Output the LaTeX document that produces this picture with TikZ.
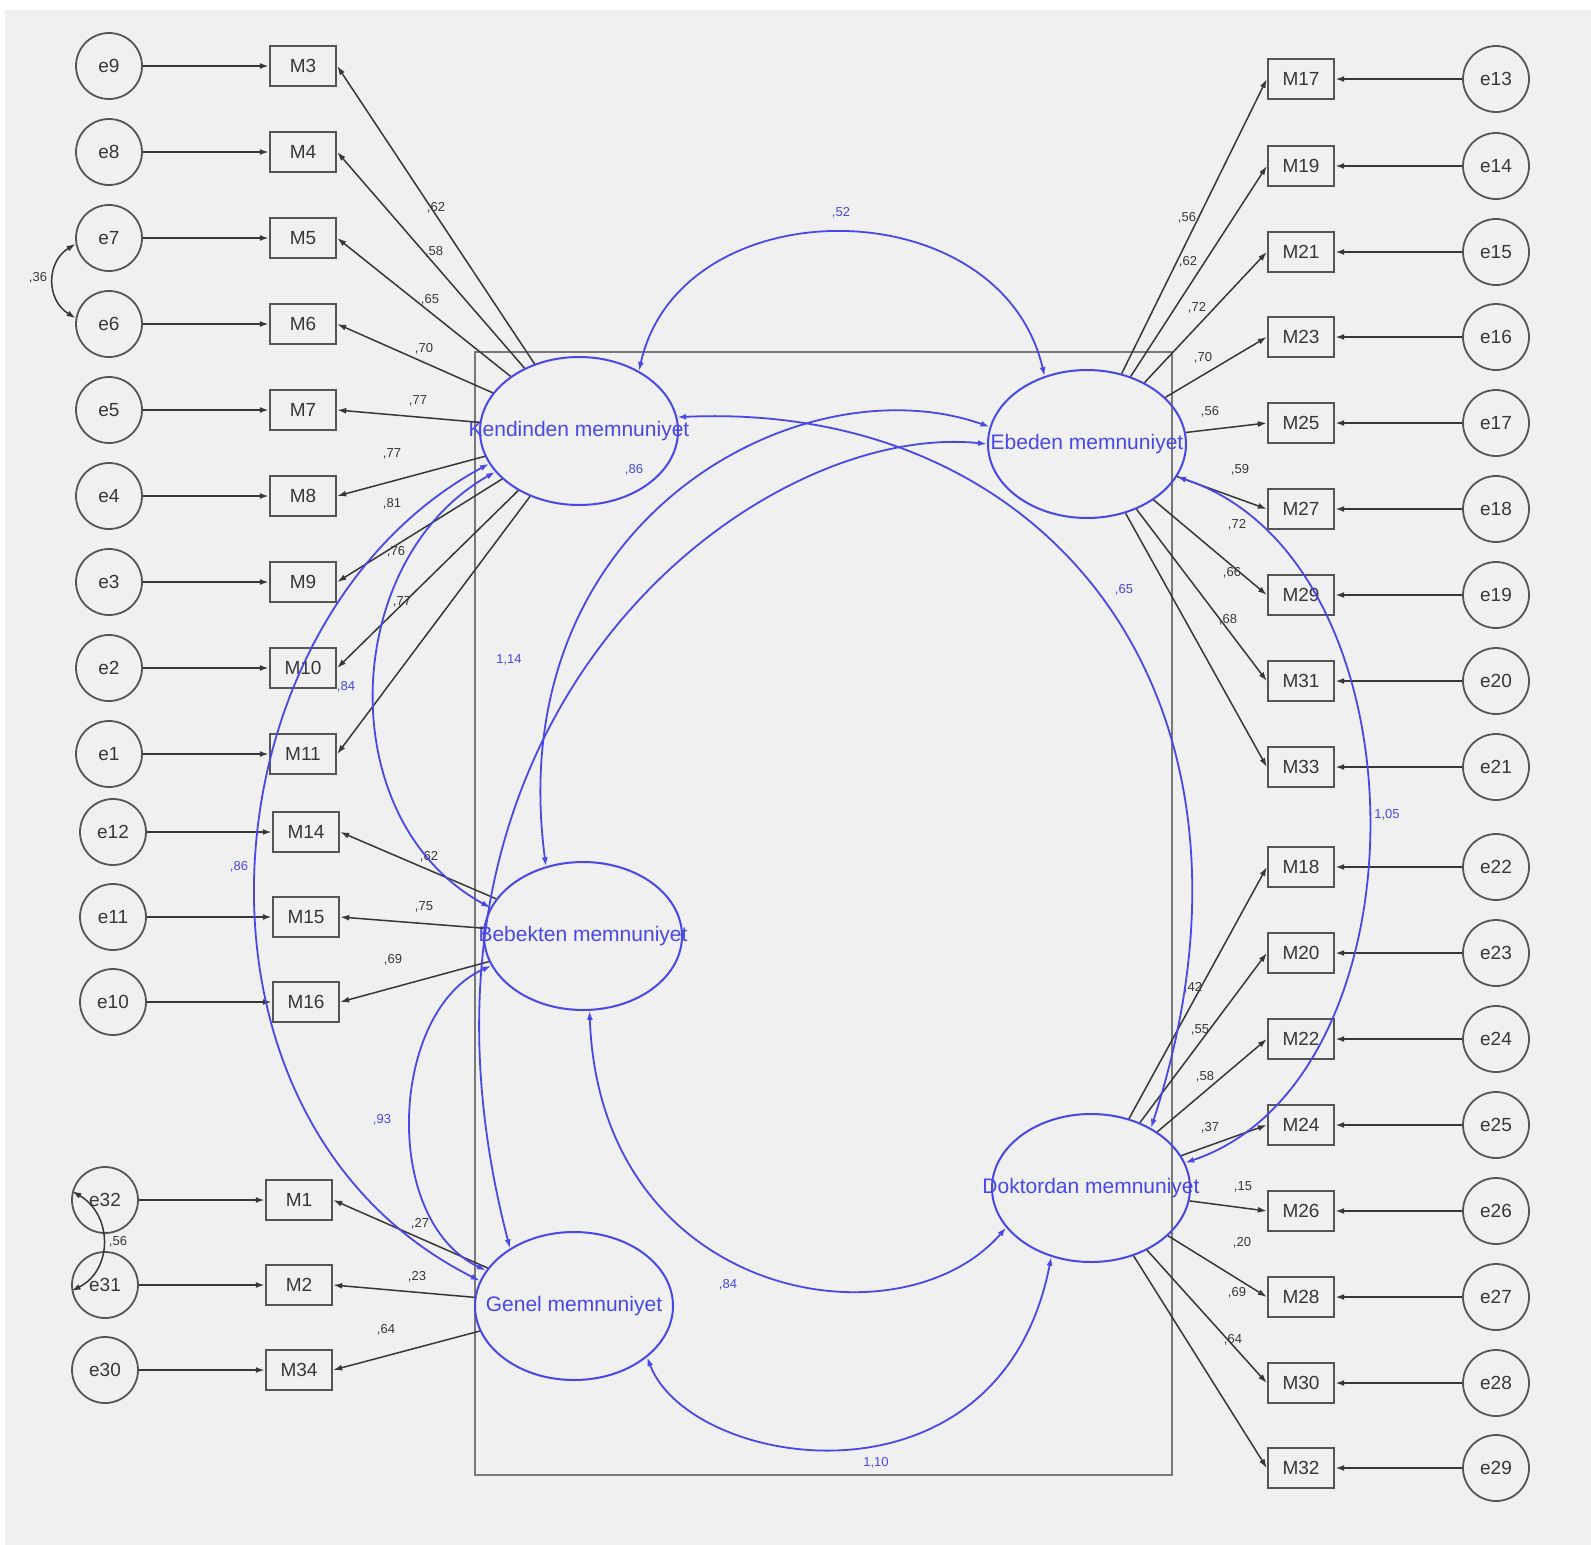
\documentclass[tikz,border=0pt]{standalone}
\usepackage{fontspec}
\setmainfont{Liberation Sans}
\usepackage{tikz}
\usetikzlibrary{shapes.geometric, arrows.meta}
\definecolor{semblue}{RGB}{72,72,232}
\definecolor{linegray}{RGB}{55,55,55}
\definecolor{boxgray}{RGB}{85,85,85}
\definecolor{bggray}{RGB}{240,240,240}
\definecolor{framegray}{RGB}{120,120,120}

\begin{document}
\begin{tikzpicture}[x=1pt, y=-1pt,
  err/.style={circle, draw=boxgray, line width=1.8pt, minimum size=66pt, inner sep=0pt,
    font=\fontsize{19}{19}\selectfont, text=linegray},
  obs/.style={draw=boxgray, line width=2.4pt, minimum width=66pt, minimum height=40pt,
    inner sep=0pt, font=\fontsize{19}{19}\selectfont, text=linegray},
  latent/.style={ellipse, draw=semblue, line width=2pt, minimum width=198pt,
    minimum height=148pt, inner sep=0pt},
  lattxt/.style={text=semblue, font=\fontsize{21}{21}\selectfont, inner sep=0pt},
  lbl/.style={font=\fontsize{13}{13}\selectfont, inner sep=0pt, text=linegray},
  cvl/.style={lbl, text=semblue},
  arr/.style={-{Latex[length=9pt,width=6pt]}},
  epath/.style={arr, line width=2pt, draw=linegray},
  load/.style={arr, line width=1.5pt, draw=linegray},
  cov/.style={{Latex[length=9pt,width=6pt]}-{Latex[length=9pt,width=6pt]},
    line width=1.8pt, draw=semblue}]

% background and frame
\fill[white] (0,0) rectangle (1591,1545);
\fill[bggray] (5,10) rectangle (1591,1545);
\useasboundingbox (0,0) rectangle (1591,1545);
\draw[framegray, line width=2pt] (475,352) rectangle (1172,1475);

% latent variables
\node[latent, label={[lattxt]center:Kendinden memnuniyet}] (Kend) at (579,431) {};
\node[latent, label={[lattxt]center:Ebeden memnuniyet}] (Ebed) at (1087,444) {};
\node[latent, label={[lattxt]center:Bebekten memnuniyet}] (Bebek) at (583,936) {};
\node[latent, label={[lattxt]center:Doktordan memnuniyet}] (Dokt) at (1091,1188) {};
\node[latent, label={[lattxt]center:Genel memnuniyet}] (Genel) at (574,1306) {};

% left indicators
\foreach \e/\m/\y in {9/3/66, 8/4/152, 7/5/238, 6/6/324, 5/7/410, 4/8/496,
    3/9/582, 2/10/668, 1/11/754} {
  \node[err] (e\e) at (109,\y) {e\e};
  \node[obs] (M\m) at (303,\y) {M\m};
  \draw[epath] (e\e) -- (M\m);
}
\foreach \e/\m/\y in {12/14/832, 11/15/917, 10/16/1002} {
  \node[err] (e\e) at (113,\y) {e\e};
  \node[obs] (M\m) at (306,\y) {M\m};
  \draw[epath] (e\e) -- (M\m);
}
\foreach \e/\m/\y in {32/1/1200, 31/2/1285, 30/34/1370} {
  \node[err] (e\e) at (105,\y) {e\e};
  \node[obs] (M\m) at (299,\y) {M\m};
  \draw[epath] (e\e) -- (M\m);
}

% right indicators
\foreach \m/\e/\y in {17/13/79, 19/14/166, 21/15/252, 23/16/337, 25/17/423,
    27/18/509, 29/19/595, 31/20/681, 33/21/767, 18/22/867, 20/23/953,
    22/24/1039, 24/25/1125, 26/26/1211, 28/27/1297, 30/28/1383, 32/29/1468} {
  \node[obs] (M\m) at (1301,\y) {M\m};
  \node[err] (e\e) at (1496,\y) {e\e};
  \draw[epath] (e\e) -- (M\m);
}

% loadings
\foreach \m in {3,4,5,6,7,8,9,10,11} \draw[load] (Kend) -- (M\m.east);
\foreach \m in {14,15,16} \draw[load] (Bebek) -- (M\m.east);
\foreach \m in {1,2,34} \draw[load] (Genel) -- (M\m.east);
\foreach \m in {17,19,21,23,25,27,29,31,33} \draw[load] (Ebed) -- (M\m.west);
\foreach \m in {18,20,22,24,26,28,30,32} \draw[load] (Dokt) -- (M\m.west);

\foreach \x/\y/\t [count=\i] in {436/208/62, 434/252/58, 430/300/65, 424/349/70,
    418/401/77, 392/454/77, 392/504/81, 396/552/76, 402/602/77, 429/857/62,
    424/907/75, 393/960/69, 420/1224/27, 417/1277/23, 386/1330/64,
    1187/218/56, 1188/262/62, 1197/308/72, 1203/358/70, 1210/412/56,
    1240/470/59, 1237/525/72, 1232/573/66, 1228/620/68, 1193/988/42,
    1200/1030/55, 1205/1077/58, 1210/1128/37, 1243/1187/15, 1242/1243/20,
    1237/1293/69, 1233/1340/64}
  \node[lbl] (ld\i) at (\x,\y) {,\t};

% error covariances
\draw[cov, draw=linegray, line width=1.5pt] (e7.190) .. controls (46,262) and (46,300) .. (e6.170);
\node[lbl] (c76) at (38,278) {,36};
\draw[cov, draw=linegray, line width=1.5pt] (e32.165) .. controls (113,1215) and (113,1270) .. (e31.190);
\node[lbl] (c3231) at (118,1242) {,56};

% latent covariances
\draw[cov] (Kend.45) .. controls (680,186) and (1000,186) .. (Ebed.122);
\draw[cov] (Kend.8) .. controls (1050,400) and (1290,700) .. (Dokt.45);
\draw[cov] (Ebed.170) .. controls (800,360) and (500,520) .. (Bebek.118);
\draw[cov] (Ebed.180) .. controls (760,420) and (370,710) .. (Genel.138);
\draw[cov] (Kend.200) .. controls (200,620) and (160,1120) .. (Genel.165);
\draw[cov] (Kend.206) .. controls (340,560) and (330,820) .. (Bebek.163);
\draw[cov] (Bebek.198) .. controls (390,1010) and (380,1220) .. (Genel.158);
\draw[cov] (Bebek.-85) .. controls (600,1300) and (900,1350) .. (Dokt.205);
\draw[cov] (Genel.-35) .. controls (690,1470) and (1000,1520) .. (Dokt.240);
\draw[cov] (Ebed.-20) .. controls (1431,560) and (1431,1080) .. (Dokt.15);

\node[cvl] (cke) at (841,213) {,52};
\node[cvl] (ceb) at (634,470) {,86};
\node[cvl] (ckd) at (1124,590) {,65};
\node[cvl] (ceg) at (509,660) {1,14};
\node[cvl] (ckb) at (346,687) {,84};
\node[cvl] (ckg) at (239,867) {,86};
\node[cvl] (cbg) at (382,1120) {,93};
\node[cvl] (cbd) at (728,1285) {,84};
\node[cvl] (cgd) at (876,1463) {1,10};
\node[cvl] (ced) at (1387,815) {1,05};
\end{tikzpicture}
\end{document}
